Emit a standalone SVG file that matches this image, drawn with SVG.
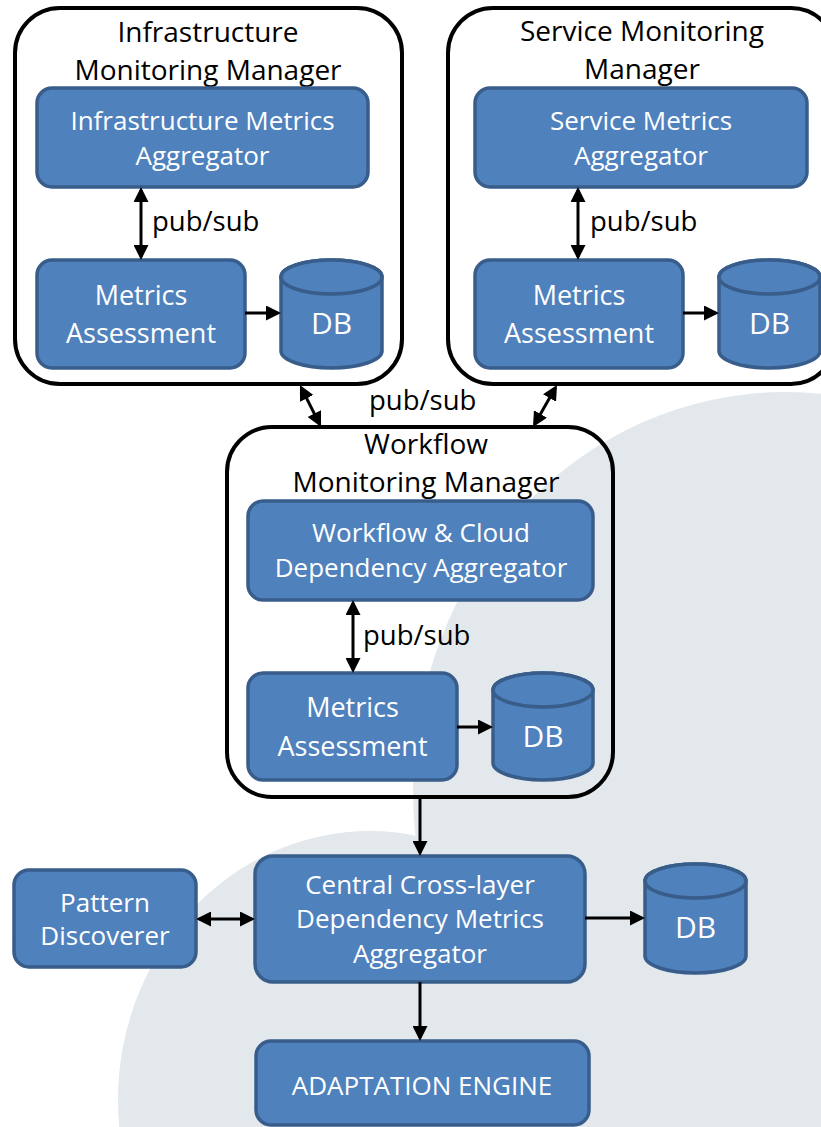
<svg xmlns="http://www.w3.org/2000/svg" width="821" height="1127" viewBox="0 0 821 1127">
<style>
text{font-family:"Open Sans","Noto Sans","Liberation Sans",sans-serif;font-size:26px;text-anchor:middle}
.t{fill:#000}
.h{font-size:28px}
.w{fill:#fff}
.m{font-size:27px}
.db{font-size:30px}
.l{text-anchor:start;font-size:27.5px}
.cont{fill:none;stroke:#000;stroke-width:4}
.box{fill:#4F81BD;stroke:#385D8A;stroke-width:3.5}
.cn line{stroke:#000;stroke-width:3}
.bg{fill:#E3E8ED}
</style>
<defs>
<marker id="ah" viewBox="0 0 10 10" refX="8" refY="5" markerWidth="15" markerHeight="15" markerUnits="userSpaceOnUse" orient="auto-start-reverse">
<path d="M0,0 L10,5 L0,10 z" fill="#000"/>
</marker>
</defs>
<g id="background">
<ellipse class="bg" cx="785" cy="790" rx="372" ry="398"/>
<ellipse class="bg" cx="370" cy="1100" rx="252" ry="269"/>
</g>
<g id="infra-manager">
<rect class="cont" x="15" y="8" width="387" height="376" rx="45"/>
<text class="t h" x="208" y="42">Infrastructure</text>
<text class="t h" x="208" y="80">Monitoring Manager</text>
</g>
<g id="infra-aggregator">
<rect class="box" x="37" y="88" width="331" height="99" rx="15"/>
<text class="w" x="202.5" y="130">Infrastructure Metrics</text>
<text class="w" x="202.5" y="165">Aggregator</text>
</g>
<g id="infra-assessment">
<rect class="box" x="37" y="260" width="208" height="108" rx="15"/>
<text class="w m" x="141" y="305">Metrics</text>
<text class="w m" x="141" y="343">Assessment</text>
</g>
<g id="infra-db">
<path class="box" d="M281,277 A50.5,17 0 0 1 382,277 V351 A50.5,17 0 0 1 281,351 Z"/>
<ellipse class="box" cx="331.5" cy="277" rx="50.5" ry="17"/>
<text class="w db" x="331.5" y="334">DB</text>
</g>
<g id="service-manager">
<rect class="cont" x="448" y="8" width="388" height="376" rx="45"/>
<text class="t h" x="642" y="41">Service Monitoring</text>
<text class="t h" x="642" y="79">Manager</text>
</g>
<g id="service-aggregator">
<rect class="box" x="475" y="88" width="332" height="99" rx="15"/>
<text class="w" x="641" y="130">Service Metrics</text>
<text class="w" x="641" y="165">Aggregator</text>
</g>
<g id="service-assessment">
<rect class="box" x="475" y="260" width="208" height="108" rx="15"/>
<text class="w m" x="579" y="305">Metrics</text>
<text class="w m" x="579" y="343">Assessment</text>
</g>
<g id="service-db">
<path class="box" d="M719,277 A50.5,17 0 0 1 820,277 V351 A50.5,17 0 0 1 719,351 Z"/>
<ellipse class="box" cx="769.5" cy="277" rx="50.5" ry="17"/>
<text class="w db" x="769.5" y="334">DB</text>
</g>
<g id="workflow-manager">
<rect class="cont" x="227" y="427" width="386" height="370" rx="45"/>
<text class="t h" x="426" y="454">Workflow</text>
<text class="t h" x="426" y="492">Monitoring Manager</text>
</g>
<g id="workflow-aggregator">
<rect class="box" x="248" y="501" width="345" height="99" rx="15"/>
<text class="w" x="421" y="542">Workflow &amp; Cloud</text>
<text class="w" x="421" y="577">Dependency Aggregator</text>
</g>
<g id="workflow-assessment">
<rect class="box" x="248" y="673" width="209" height="107" rx="15"/>
<text class="w m" x="352.5" y="717">Metrics</text>
<text class="w m" x="352.5" y="756">Assessment</text>
</g>
<g id="workflow-db">
<path class="box" d="M493,690 A50,17 0 0 1 593,690 V763 A50,17 0 0 1 493,763 Z"/>
<ellipse class="box" cx="543" cy="690" rx="50" ry="17"/>
<text class="w db" x="543" y="747">DB</text>
</g>
<g id="central-aggregator">
<rect class="box" x="255" y="856" width="330" height="126" rx="18"/>
<text class="w" x="420" y="894">Central Cross-layer</text>
<text class="w" x="420" y="928">Dependency Metrics</text>
<text class="w" x="420" y="963">Aggregator</text>
</g>
<g id="pattern-discoverer">
<rect class="box" x="14" y="870" width="182" height="97" rx="15"/>
<text class="w" x="105" y="912">Pattern</text>
<text class="w" x="105" y="945">Discoverer</text>
</g>
<g id="central-db">
<path class="box" d="M645,881 A50.5,17 0 0 1 746,881 V956 A50.5,17 0 0 1 645,956 Z"/>
<ellipse class="box" cx="695.5" cy="881" rx="50.5" ry="17"/>
<text class="w db" x="695.5" y="938">DB</text>
</g>
<g id="adaptation-engine">
<rect class="box" x="256" y="1041" width="333" height="84" rx="15"/>
<text class="w" x="422" y="1095">ADAPTATION ENGINE</text>
</g>
<g id="connectors" class="cn">
<line x1="141" y1="190" x2="141" y2="257" marker-start="url(#ah)" marker-end="url(#ah)"/>
<line x1="245" y1="313" x2="278" y2="313" marker-end="url(#ah)"/>
<line x1="578" y1="190" x2="578" y2="257" marker-start="url(#ah)" marker-end="url(#ah)"/>
<line x1="683" y1="313" x2="716" y2="313" marker-end="url(#ah)"/>
<line x1="301.3" y1="387.7" x2="319.7" y2="424.3" marker-start="url(#ah)" marker-end="url(#ah)"/>
<line x1="555.5" y1="387.6" x2="534.5" y2="424.4" marker-start="url(#ah)" marker-end="url(#ah)"/>
<line x1="353" y1="603" x2="353" y2="670" marker-start="url(#ah)" marker-end="url(#ah)"/>
<line x1="457" y1="727" x2="490" y2="727" marker-end="url(#ah)"/>
<line x1="420" y1="797" x2="420" y2="853" marker-end="url(#ah)"/>
<line x1="199" y1="919" x2="252" y2="919" marker-start="url(#ah)" marker-end="url(#ah)"/>
<line x1="585" y1="918" x2="642" y2="918" marker-end="url(#ah)"/>
<line x1="420" y1="982" x2="420" y2="1038" marker-end="url(#ah)"/>
<text class="t l" x="152" y="231">pub/sub</text>
<text class="t l" x="590" y="231">pub/sub</text>
<text class="t l" x="369" y="410">pub/sub</text>
<text class="t l" x="363" y="645">pub/sub</text>
</g>
</svg>
